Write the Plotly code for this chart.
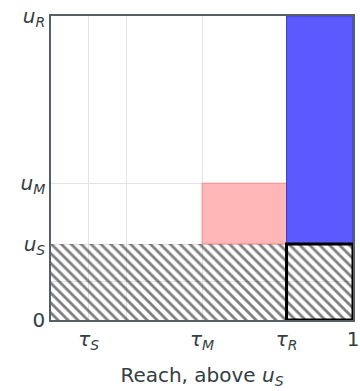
import plotly.graph_objects as go

# ---- data ----
tau_S, tau_M, tau_R = 0.125, 0.5, 0.78
u_S, u_M, u_R = 0.25, 0.45, 1.0
x_ticks = [tau_S, 0.25, tau_M, tau_R, 1.0]
x_labels = ["<i>τ</i><sub><i>S</i></sub>", "", "<i>τ</i><sub><i>M</i></sub>", "<i>τ</i><sub><i>R</i></sub>", "1"]
y_ticks = [0.0, 0.128, u_S, u_M, u_R]
y_labels = ["0", "", "<i>u</i><sub><i>S</i></sub>", "<i>u</i><sub><i>M</i></sub>", "<i>u</i><sub><i>R</i></sub>"]

FONT = "DejaVu Sans"
TXT = "rgb(50,62,64)"

def rect(x0, x1, y0, y1):
    return [x0, x1, x1, x0, x0], [y0, y0, y1, y1, y0]

fig = go.Figure()

# hatched region below u_S
xs, ys = rect(0, 1, 0, u_S)
fig.add_trace(go.Scatter(x=xs, y=ys, fill="toself", mode="lines",
                         line=dict(width=0, color="rgba(0,0,0,0)"),
                         fillcolor="rgba(255,255,255,0)",
                         fillpattern=dict(shape="\\", size=7, solidity=0.4,
                                          fgcolor="black", bgcolor="rgba(255,255,255,0)"),
                         hoverinfo="skip", showlegend=False))

# pink rectangle
xs, ys = rect(tau_M, tau_R, u_S, u_M)
fig.add_trace(go.Scatter(x=xs, y=ys, fill="toself", mode="lines",
                         line=dict(width=1, color="rgba(235,130,130,0.8)"),
                         fillcolor="rgb(255,182,182)",
                         hoverinfo="skip", showlegend=False))

# blue rectangle
xs, ys = rect(tau_R, 1, u_S, u_R)
fig.add_trace(go.Scatter(x=xs, y=ys, fill="toself", mode="lines",
                         line=dict(width=1, color="rgb(60,60,200)"),
                         fillcolor="rgb(90,90,255)",
                         hoverinfo="skip", showlegend=False))

# black outlined rectangle
xs, ys = rect(tau_R, 1, 0, u_S)
fig.add_trace(go.Scatter(x=xs, y=ys, mode="lines",
                         line=dict(width=3, color="black"),
                         hoverinfo="skip", showlegend=False))

fig.update_layout(
    width=360, height=391,
    margin=dict(l=51, r=7, t=16, b=71),
    paper_bgcolor="white", plot_bgcolor="white",
    font=dict(family=FONT, size=20, color=TXT),
    xaxis=dict(range=[0, 1], tickvals=x_ticks, ticktext=x_labels, automargin=False,
               showgrid=True, gridcolor="rgb(228,228,228)", gridwidth=1,
               zeroline=False, showline=True, linecolor="rgb(85,95,100)", linewidth=1.5,
               mirror=True, ticks="", ticklen=0,
               tickfont=dict(family=FONT, size=20, color=TXT),
               title=dict(text="Reach, above <i>u</i><sub><i>S</i></sub>",
                          font=dict(family=FONT, size=20, color=TXT), standoff=16)),
    yaxis=dict(range=[0, 1], tickvals=y_ticks, ticktext=y_labels, automargin=False,
               showgrid=True, gridcolor="rgb(228,228,228)", gridwidth=1,
               zeroline=False, showline=True, linecolor="rgb(85,95,100)", linewidth=1.5,
               mirror=True, ticks="", ticklen=0,
               tickfont=dict(family=FONT, size=20, color=TXT)),
)

fig.write_html("out.html")
